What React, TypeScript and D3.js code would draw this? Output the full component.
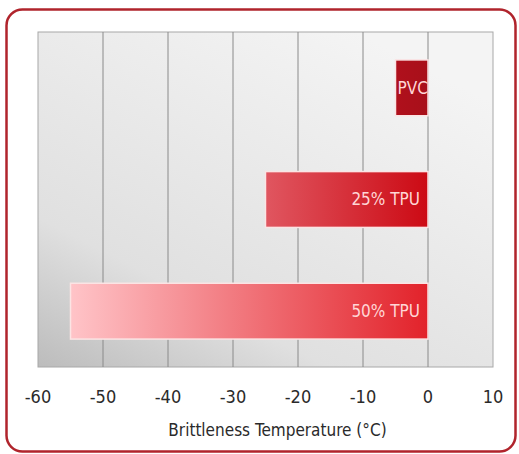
import { useEffect, useRef } from "react";
import * as d3 from "d3";

const materials = ["PVC", "25% TPU", "50% TPU"];
const brittleTemps = [-5, -25, -55];
const xTicks = [-60, -50, -40, -30, -20, -10, 0, 10];
const axisTitle = "Brittleness Temperature (°C)";

// gradient stops per bar, left -> right
const barColors = [
  ["#b0101c", "#a8101a"],
  ["#e05660", "#cc0a14"],
  ["#ffc4c8", "#e2222a"],
];

const FONT = "'Liberation Sans Narrow', 'DejaVu Sans Condensed', sans-serif";

const BrittlenessChart = () => {
  const svgRef = useRef<SVGSVGElement>(null);

  useEffect(() => {
    if (!svgRef.current) return;
    const svg = d3.select(svgRef.current);
    svg.selectAll("*").remove();

    const width = 519;
    const height = 454;
    const margin = { top: 32, right: 26, bottom: 87, left: 38 };

    const x = d3
      .scaleLinear()
      .domain([-60, 10])
      .range([margin.left, width - margin.right]);

    const y = d3
      .scaleBand()
      .domain(materials)
      .range([margin.top, height - margin.bottom])
      .paddingInner(0.5)
      .paddingOuter(0.25);

    const defs = svg.append("defs");

    // plot background
    const bg = defs
      .append("linearGradient")
      .attr("id", "plot-bg")
      .attr("x1", "0%")
      .attr("y1", "100%")
      .attr("x2", "70%")
      .attr("y2", "0%");
    bg.append("stop").attr("offset", "0%").attr("stop-color", "#bcbcbc");
    bg.append("stop").attr("offset", "30%").attr("stop-color", "#e0e0e0");
    bg.append("stop").attr("offset", "100%").attr("stop-color", "#f4f4f4");

    barColors.forEach((c, i) => {
      const g = defs
        .append("linearGradient")
        .attr("id", `bar-grad-${i}`)
        .attr("x1", "0%")
        .attr("x2", "100%");
      g.append("stop").attr("offset", "0%").attr("stop-color", c[0]);
      g.append("stop").attr("offset", "100%").attr("stop-color", c[1]);
    });

    defs
      .append("clipPath")
      .attr("id", "pvc-clip")
      .append("rect")
      .attr("x", x(brittleTemps[0]))
      .attr("y", y(materials[0])!)
      .attr("width", x(0) - x(brittleTemps[0]))
      .attr("height", y.bandwidth());

    // outer frame
    svg
      .append("rect")
      .attr("x", 6.5)
      .attr("y", 9.5)
      .attr("width", width - 10)
      .attr("height", height - 12)
      .attr("rx", 16)
      .attr("fill", "#fff")
      .attr("stroke", "#b0242c")
      .attr("stroke-width", 2.5);

    // plot area
    svg
      .append("rect")
      .attr("x", x(-60))
      .attr("y", margin.top)
      .attr("width", x(10) - x(-60))
      .attr("height", height - margin.bottom - margin.top)
      .attr("fill", "url(#plot-bg)")
      .attr("stroke", "#a8a8a8")
      .attr("stroke-width", 1);

    // grid
    svg
      .selectAll("line.grid")
      .data(xTicks.slice(1, -1))
      .join("line")
      .attr("class", "grid")
      .attr("x1", (d) => x(d))
      .attr("x2", (d) => x(d))
      .attr("y1", margin.top)
      .attr("y2", height - margin.bottom)
      .attr("stroke", "#8a8a8a")
      .attr("stroke-width", 1);

    // bars
    svg
      .selectAll("rect.bar")
      .data(materials)
      .join("rect")
      .attr("class", "bar")
      .attr("x", (_, i) => x(brittleTemps[i]))
      .attr("y", (d) => y(d)!)
      .attr("width", (_, i) => x(0) - x(brittleTemps[i]))
      .attr("height", y.bandwidth())
      .attr("fill", (_, i) => `url(#bar-grad-${i})`)
      .attr("stroke", "#fbe4e4")
      .attr("stroke-width", 1.5);

    // bar labels
    svg
      .selectAll("text.value")
      .data(materials)
      .join("text")
      .attr("class", "value")
      .attr("x", (_, i) => (i === 0 ? x(brittleTemps[0]) + 2 : x(0) - 8))
      .attr("y", (d) => y(d)! + y.bandwidth() / 2)
      .attr("dy", "0.35em")
      .attr("text-anchor", (_, i) => (i === 0 ? "start" : "end"))
      .attr("clip-path", (_, i) => (i === 0 ? "url(#pvc-clip)" : null))
      .attr("fill", "#ffd6d6")
      .attr("font-family", FONT)
      .attr("font-size", "17px")
      .text((d) => d);

    // tick labels
    svg
      .selectAll("text.tick")
      .data(xTicks)
      .join("text")
      .attr("class", "tick")
      .attr("x", (d) => x(d))
      .attr("y", 397)
      .attr("dy", "0.35em")
      .attr("text-anchor", "middle")
      .attr("fill", "#2a2a2a")
      .attr("font-family", FONT)
      .attr("font-size", "18px")
      .text((d) => d);

    svg
      .append("text")
      .attr("x", (x(-60) + x(10)) / 2 + 12)
      .attr("y", 430)
      .attr("dy", "0.35em")
      .attr("text-anchor", "middle")
      .attr("fill", "#2a2a2a")
      .attr("font-family", FONT)
      .attr("font-size", "17px")
      .text(axisTitle);
  }, []);

  return (
    <svg
      ref={svgRef}
      width={519}
      height={454}
      style={{ position: "absolute", left: 0, top: 0, background: "#fff" }}
    />
  );
};

export default function App() {
  return <BrittlenessChart />;
}
